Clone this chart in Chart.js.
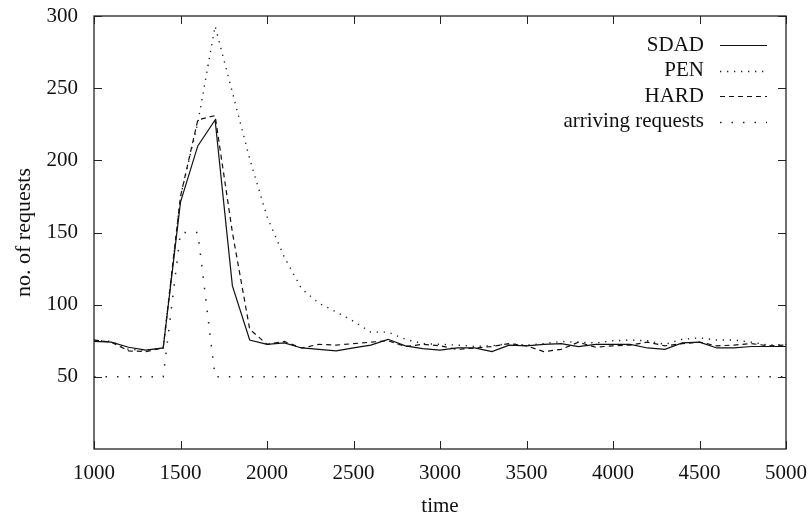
<!DOCTYPE html>
<html>
<head>
<meta charset="utf-8">
<script src="https://cdn.jsdelivr.net/npm/chart.js@4.4.0/dist/chart.umd.min.js"></script>
<style>
  body { margin: 0; background: #fff; }
  canvas { display: block; }
</style>
</head>
<body>
<canvas id="reqChart" width="809" height="517"></canvas>
<script>
// time axis samples
const times = [1000, 1100, 1200, 1300, 1400, 1500, 1600, 1700, 1800, 1900,
               2000, 2100, 2200, 2300, 2400, 2500, 2600, 2700, 2800, 2900,
               3000, 3100, 3200, 3300, 3400, 3500, 3600, 3700, 3800, 3900,
               4000, 4100, 4200, 4300, 4400, 4500, 4600, 4700, 4800, 4900, 5000];

const sdad = [74.5, 74, 70.5, 68.5, 70, 171, 210, 228, 113, 75.5,
              72.5, 73.5, 70, 69, 68, 70, 72, 76, 71.5, 69.5,
              68.5, 70, 70, 67.5, 72, 71.5, 72.5, 73, 71, 72.5,
              72.5, 72.5, 70, 69, 73.5, 74, 70, 70, 71, 71, 71];

const pen = [75.5, 74.5, 69, 68.5, 70, 175, 226, 293, 247, 201,
             161, 133, 111, 101, 95, 88.5, 81, 81, 76, 73,
             72.5, 72, 71, 71.5, 73, 72, 73, 74.5, 74, 73.5,
             75, 75.5, 75, 72.5, 76, 77, 75.5, 75.5, 74, 72, 72.5];

const hard = [75.5, 74, 68, 67.5, 70, 175, 228, 231, 150, 83,
              72.5, 74.5, 70, 72.5, 72, 73, 74, 75, 71, 72.5,
              71.5, 69, 70, 71, 73, 71.5, 67.5, 69, 74, 70.5,
              71.5, 72, 74, 71.5, 73, 74, 71.5, 72, 73, 71.5, 72];

const arriving = [50, 50, 50, 50, 50, 150, 150, 50, 50, 50,
                  50, 50, 50, 50, 50, 50, 50, 50, 50, 50,
                  50, 50, 50, 50, 50, 50, 50, 50, 50, 50,
                  50, 50, 50, 50, 50, 50, 50, 50, 50, 50, 50];

const xTicks = [1000, 1500, 2000, 2500, 3000, 3500, 4000, 4500, 5000];
const yTicks = [50, 100, 150, 200, 250, 300];

const FONT = '"Liberation Serif", "DejaVu Serif", serif';

function pts(vals) {
    return times.map((t, i) => ({ x: t, y: vals[i] }));
}

// no extra room for overflowing tick labels, layout padding decides
function noOverflow(s) {
    s.paddingTop = 0; s.paddingBottom = 0;
    s.paddingLeft = 0; s.paddingRight = 0;
}

// gnuplot style frame, inward ticks and right aligned key
const framePlugin = {
    id: 'frame',
    afterDraw(chart) {
        const c = chart.ctx;
        const a = chart.chartArea;
        const xs = chart.scales.x, ys = chart.scales.y;
        c.save();
        c.strokeStyle = '#222';
        c.lineWidth = 1.3;
        c.strokeRect(a.left, a.top, a.right - a.left, a.bottom - a.top);
        c.lineWidth = 1;
        c.beginPath();
        xTicks.forEach(v => {
            const px = Math.round(xs.getPixelForValue(v)) + 0.5;
            c.moveTo(px, a.bottom); c.lineTo(px, a.bottom - 8);
            c.moveTo(px, a.top); c.lineTo(px, a.top + 8);
        });
        yTicks.forEach(v => {
            const py = Math.round(ys.getPixelForValue(v)) + 0.5;
            c.moveTo(a.left, py); c.lineTo(a.left + 8, py);
            c.moveTo(a.right, py); c.lineTo(a.right - 8, py);
        });
        c.stroke();

        // key
        c.font = '21px ' + FONT;
        c.fillStyle = '#111';
        c.textAlign = 'right';
        c.textBaseline = 'middle';
        chart.data.datasets.forEach((ds, i) => {
            const y = 45 + i * 25.5;
            c.fillText(ds.label, 704, y);
            c.strokeStyle = ds.borderColor;
            c.lineWidth = ds.borderWidth;
            c.setLineDash(ds.borderDash || []);
            c.beginPath();
            c.moveTo(720, Math.round(y) + 0.5);
            c.lineTo(767, Math.round(y) + 0.5);
            c.stroke();
        });
        c.restore();
    }
};

const ctx = document.getElementById('reqChart').getContext('2d');

new Chart(ctx, {
    type: 'line',
    data: {
        datasets: [
            { label: 'SDAD', data: pts(sdad), borderColor: '#111', borderWidth: 1.2, borderDash: [] },
            { label: 'PEN', data: pts(pen), borderColor: '#222', borderWidth: 1.4, borderDash: [1.3, 5.7] },
            { label: 'HARD', data: pts(hard), borderColor: '#111', borderWidth: 1.2, borderDash: [5, 4] },
            { label: 'arriving requests', data: pts(arriving), borderColor: '#222', borderWidth: 1.5, borderDash: [1.5, 10] }
        ]
    },
    options: {
        responsive: false,
        animation: false,
        layout: { padding: { top: 16, right: 23, left: 0, bottom: 0 } },
        elements: {
            point: { radius: 0 },
            line: { tension: 0, borderCapStyle: 'butt' }
        },
        plugins: {
            legend: { display: false },
            tooltip: { enabled: false }
        },
        scales: {
            x: {
                type: 'linear',
                min: 1000,
                max: 5000,
                afterFit: s => { s.height = 68; noOverflow(s); },
                afterBuildTicks: s => { s.ticks = xTicks.map(v => ({ value: v })); },
                grid: { display: false, drawTicks: false },
                border: { display: false },
                ticks: {
                    padding: 12,
                    color: '#111',
                    maxRotation: 0,
                    font: { family: FONT, size: 21 },
                    callback: v => String(v)
                },
                title: {
                    display: true,
                    text: 'time',
                    color: '#111',
                    padding: { top: 0, bottom: 0 },
                    font: { family: FONT, size: 21, lineHeight: 1 }
                }
            },
            y: {
                min: 0,
                max: 300,
                afterFit: s => { s.width = 94; noOverflow(s); },
                afterBuildTicks: s => { s.ticks = yTicks.map(v => ({ value: v })); },
                grid: { display: false, drawTicks: false },
                border: { display: false },
                ticks: {
                    padding: 16,
                    color: '#111',
                    font: { family: FONT, size: 21 },
                    callback: v => String(v)
                },
                title: {
                    display: true,
                    text: 'no. of requests',
                    color: '#111',
                    padding: { top: 13, bottom: 0 },
                    font: { family: FONT, size: 22, lineHeight: 1 }
                }
            }
        }
    },
    plugins: [framePlugin]
});
</script>
</body>
</html>
